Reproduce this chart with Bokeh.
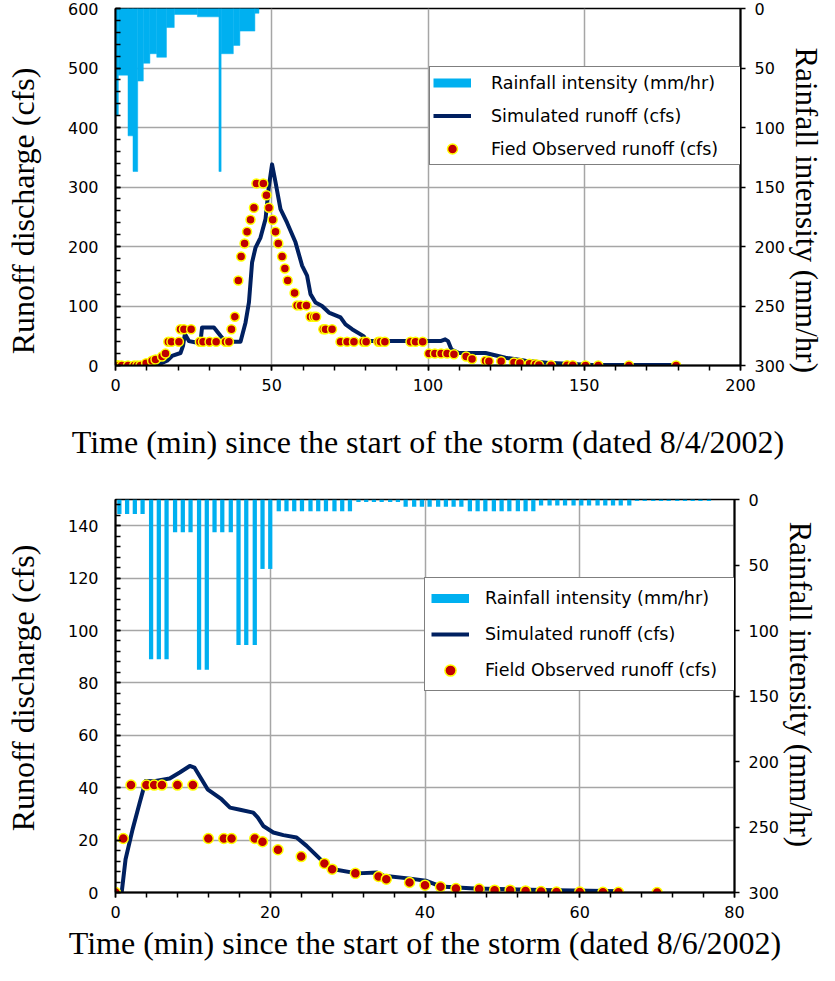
from bokeh.plotting import figure
from bokeh.models import Range1d, LinearAxis, FixedTicker, Legend, LegendItem
from bokeh.layouts import column
from bokeh.embed import file_html
from bokeh.resources import INLINE

NAN = float("nan")
NB = "\u00a0"

# ---------------- Storm of 8/4/2002 ----------------
rain1_left = [0.0, 0.9, 4.0, 5.6, 7.1, 8.9, 11.0, 13.2, 16.3, 18.8, 26.2, 33.1, 33.8, 37.7, 39.8, 44.6]
rain1_right = [0.9, 4.0, 5.6, 7.1, 8.9, 11.0, 13.2, 16.3, 18.8, 26.2, 33.1, 33.8, 37.7, 39.8, 44.6, 45.9]
rain1_val = [90, 56, 107, 137, 61, 46, 38, 41, 16, 5, 7, 137, 38, 31, 19, 4]

sim1_t = [0, 12, 13.9, 16.5, 18.1, 20.8, 21.6, 22.2, 23.5, 25.4, 27.2, 27.7, 31.5, 33.6, 35.2, 40,
          41.6, 42.7, 43.7, 44.8, 46.4, 48, 49.1, 50.1, 51.2, 52.8, 54.9, 57.6, 59.7, 61.3, 62.4,
          64, 66.1, 68.3, 72, 73.6, 75.7, 79.5, 80, 104, 105.5, 106.4, 107.5, 109.9, 118.4, 124.8,
          131.2, 139.7, 152.5, 179.2]
sim1_q = [0, 0.5, 2, 8, 16, 21, 33, 53, 41, 39, 40, 64, 64, 50, 40, 40,
          72, 106, 173, 198, 215, 246, 302, 338, 308, 263, 240, 207, 168, 151, 120,
          106, 100, 89, 81, 69, 61, 49, 41, 41, 44, 41, 27, 21, 21, 13,
          8, 4, 1, 1]

obs1_t = [0, 0.5, 1, 2, 4, 6, 7, 8, 9.8, 11.7, 12.8, 14.9, 16, 16.9, 17.9, 20.3, 20.8, 21.9, 24.2,
          27, 28, 30.1, 32.2, 35.2, 36.3, 37.1, 38.2, 39.3, 40.2, 41.3, 42.1, 43.2, 44.3, 45.1,
          47.3, 48.3, 49.1, 50.3, 51.2, 52.1, 53.3, 54.2, 55.1, 57.3, 58.1, 59.2, 61.1, 62.4, 63.5,
          64.2, 66.5, 67.2, 69.3, 72, 74.1, 76.3, 79.3, 80.2, 84.1, 84.8, 86.2, 94.4, 96, 98.3,
          100.3, 102.2, 104.2, 106.1, 108.3, 112.2, 114.1, 118.4, 119.5, 123.4, 127.5, 129.4,
          132.5, 134.4, 135.5, 139.4, 144.5, 146.3, 150.4, 154.5, 164.3, 179.4]
obs1_q = [0, 0, 0, 0, 0, 0, 0, 0, 4, 8, 10, 15, 20, 40, 40, 40, 61, 61, 61,
          40, 40, 40, 40, 40, 40, 61, 82, 143, 183, 205, 225, 245, 265, 306,
          306, 286, 265, 245, 225, 205, 183, 163, 143, 122, 101, 101, 101, 82, 82,
          82, 61, 61, 61, 40, 40, 40, 40, 40, 40, 40, 40, 40, 40, 40,
          20, 20, 20, 20, 19, 15, 11, 8, 7, 7, 5, 4,
          3, 2, 1, 0.5, 0.5, 0.5, 0, 0, 0, 0]

# ---------------- Storm of 8/6/2002 ----------------
rain2_t = [0.5, 1.5, 2.5, 3.5, 4.6, 5.6, 6.6, 7.7, 8.7, 9.7, 10.8, 11.8, 12.8, 13.8, 14.9, 15.9,
           16.9, 18.0, 19.0, 20.0, 21.1, 22.1, 23.1, 24.1, 25.2, 26.2, 27.2, 28.3, 29.3, 30.3,
           31.4, 32.4, 33.4, 34.4, 35.5, 36.5, 37.5, 38.6, 39.6, 40.6, 41.7, 42.7, 43.7, 44.7,
           45.8, 46.8, 47.8, 48.9, 49.9, 50.9, 52.0, 53.0, 54.0, 55.0, 56.1, 57.1, 58.1, 59.2,
           60.2, 61.2, 62.3, 63.3, 64.3, 65.3, 66.4, 67.4, 68.4, 69.5, 70.5, 71.5, 72.6, 73.6,
           74.6, 75.6, 76.7]
rain2_val = [11, 11, 11, 11, 122, 122, 122, 25, 25, 25, 130, 130, 25, 25, 25, 111,
             111, 111, 53, 53, 9, 9, 9, 9, 9, 9, 9, 9, 9, 9,
             2, 2, 2, 2, 2, 2, 5.5, 5.5, 5.5, 5.5, 5.5, 5.5, 5.5, 5.5,
             9, 9, 9, 9, 9, 9, 9, 9, 9, 4.5, 4.5, 4.5, 4.5, 4.5,
             4.5, 4.5, 4.5, 4.5, 4.5, 4.5, 4.5, 1.2, 1.2, 1.2, 1.2, 1.2, 1.2, 1.2,
             1.2, 1.2, 1.2]

sim2_t = [0.8, 1.3, 2.2, 3.1, 3.9, 5, 7, 8.3, 9.6, 10.2, 11.1, 11.9, 13.7, 14.8, 16.1, 17.8, 18.4,
          19.1, 20.4, 21.7, 23.4, 24.7, 26.9, 28.2, 31.2, 33.8, 34.7, 38.1, 40.1, 42, 46.4, 55, 65.4]
sim2_q = [0, 12.7, 24, 34, 42.6, 42.5, 43.5, 45.8, 48.3, 47.7, 43.3, 39.4, 35.6, 32.4, 31.6, 30.5, 28.6,
          25.4, 22.9, 21.9, 21, 17.8, 11.5, 8.9, 7.3, 7.6, 6.4, 5.3, 4.5, 2.3, 1.5, 1, 0.5]

obs2_t = [0, 1, 2, 4, 5, 6, 8, 10, 12, 14, 15, 18, 19, 21, 24, 27, 28, 31, 34, 35, 38, 40, 42,
          44, 47, 49, 51, 53, 55, 57, 60, 63, 65, 70]
obs2_q = [0, 20.6, 41, 41, 41, 41, 41, 41, 20.6, 20.6, 20.6, 20.6, 19.4, 16.3, 13.7, 11.1, 8.9,
          7.3, 6.1, 5.1, 3.8, 2.8, 2.2, 1.5, 1.3, 0.9, 0.9, 0.6, 0.4, 0.2, 0.2, 0.1, 0.1, 0]

x1_ticks = [0, 50, 100, 150, 200]
y1_ticks = [0, 100, 200, 300, 400, 500, 600]
x2_ticks = [0, 20, 40, 60, 80]
y2_ticks = [0, 20, 40, 60, 80, 100, 120, 140]
rain_ticks = [0, 50, 100, 150, 200, 250, 300]

y_title = "Runoff discharge (cfs)"
r_title = "Rainfall intensity (mm/hr)"
x1_title = "Time (min) since the start of the storm (dated 8/4/2002)"
x2_title = "Time (min) since the start of the storm (dated 8/6/2002)"
legend1_labels = ["Rainfall intensity (mm/hr)", "Simulated runoff (cfs)", "Fied Observed runoff (cfs)"]
legend2_labels = ["Rainfall intensity (mm/hr)", "Simulated runoff (cfs)", "Field Observed runoff (cfs)"]

BLUE = "#00B0F0"
NAVY = "#002060"
RED = "#C00000"
YELLOW = "#FFFF00"
GRID = "#A6A6A6"
SERIF = "Liberation Serif"
SANS = "DejaVu Sans"


def style_axis(ax):
    ax.major_label_text_font = SANS
    ax.major_label_text_font_size = "16px"
    ax.major_label_text_color = "black"
    ax.axis_label_text_font = SERIF
    ax.axis_label_text_font_size = "32px"
    ax.axis_label_text_font_style = "normal"
    ax.axis_label_text_color = "black"
    ax.axis_line_color = "black"
    ax.axis_line_width = 2
    ax.major_tick_line_color = "black"
    ax.minor_tick_line_color = "black"
    ax.major_tick_line_width = 1.5
    ax.minor_tick_line_width = 1.5


def make_chart(fw, fh, xmax, ymax, xt, xminor, yt, yminor, bl, br, bt, bb, xlabel, ylabel, rlabel,
               legend_loc, leg_pad, leg_h, leg_sp, leg_standoff, leg_lw):
    p = figure(frame_width=fw, frame_height=fh, x_range=Range1d(0, xmax), y_range=Range1d(0, ymax),
               output_backend="svg", toolbar_location=None,
               min_border_left=bl, min_border_right=br, min_border_top=bt, min_border_bottom=bb)
    p.background_fill_color = "white"
    p.border_fill_color = "white"
    p.outline_line_color = "black"
    p.outline_line_width = 1.5
    p.extra_y_ranges = {"rain": Range1d(start=300, end=0)}

    xa = p.xaxis[0]
    style_axis(xa)
    xa.ticker = FixedTicker(ticks=xt, minor_ticks=xminor)
    xa.major_tick_in = 0
    xa.major_tick_out = 5
    xa.minor_tick_in = 0
    xa.minor_tick_out = 5
    xa.major_label_standoff = 8
    xa.axis_label = xlabel

    ya = p.yaxis[0]
    style_axis(ya)
    ya.ticker = FixedTicker(ticks=yt, minor_ticks=yminor)
    ya.major_tick_in = 5
    ya.major_tick_out = 0
    ya.minor_tick_in = 5
    ya.minor_tick_out = 0
    ya.major_label_standoff = 17
    ya.axis_label = ylabel
    ya.axis_label_standoff = 24

    ra = LinearAxis(y_range_name="rain", axis_label=rlabel,
                    ticker=FixedTicker(ticks=rain_ticks))
    style_axis(ra)
    ra.axis_label_text_font_size = "31px"
    ra.major_tick_in = 0
    ra.major_tick_out = 5
    ra.minor_tick_line_color = None
    ra.major_label_standoff = 9
    ra.axis_label_standoff = 1
    p.add_layout(ra, "right")

    p.xgrid.ticker = FixedTicker(ticks=xt)
    p.ygrid.ticker = FixedTicker(ticks=yt)
    for g in (p.xgrid, p.ygrid):
        g.grid_line_color = GRID
        g.grid_line_width = 1.5

    leg = Legend(location=legend_loc, glyph_width=38, glyph_height=leg_h, label_height=leg_h,
                 label_width=leg_lw, spacing=leg_sp, padding=leg_pad, label_standoff=leg_standoff,
                 border_line_color="black", border_line_width=1.2, background_fill_alpha=1.0,
                 label_text_font=SANS, label_text_font_size="17.5px", label_text_color="black")
    return p, xa, leg


# ---------- chart 1 ----------
p1, xa1, leg1 = make_chart(625, 357, 200, 600, x1_ticks, list(range(0, 201, 10)),
                           y1_ticks, list(range(0, 601, 20)), 112, 82, 8, 115,
                           x1_title, y_title + NB * 6, NB * 6 + r_title,
                           (314, 200), 3, 25, 8, 20, 246)
xa1.axis_label_standoff = 30
p1.quad(left=rain1_left, right=rain1_right, top=[0] * len(rain1_val), bottom=rain1_val,
        y_range_name="rain", fill_color=BLUE, line_color=BLUE, line_width=0.5)
leg_bar1 = p1.line(x=[NAN, NAN], y=[NAN, NAN], line_color=BLUE, line_width=9)
l1 = p1.line(sim1_t, sim1_q, line_color=NAVY, line_width=4, line_join="round")
s1 = p1.scatter(obs1_t, obs1_q, size=9, fill_color=RED, line_color=YELLOW, line_width=1.5)
leg1.items = [LegendItem(label=legend1_labels[0], renderers=[leg_bar1]),
              LegendItem(label=legend1_labels[1], renderers=[l1]),
              LegendItem(label=legend1_labels[2], renderers=[s1])]
p1.add_layout(leg1)

# ---------- chart 2 ----------
p2, xa2, leg2 = make_chart(619, 393, 80, 150, x2_ticks, list(range(0, 81, 4)),
                           y2_ticks, list(range(0, 149, 4)), 115, 85, 19, 73,
                           x2_title, NB * 2 + y_title, r_title + NB * 3,
                           (309, 201), 6, 28, 8, 16, 245)
xa2.axis_label_standoff = 4
p2.vbar(x=rain2_t, width=0.55, top=0, bottom=rain2_val, y_range_name="rain",
        fill_color=BLUE, line_color=None)
leg_bar2 = p2.line(x=[NAN, NAN], y=[NAN, NAN], line_color=BLUE, line_width=9)
l2 = p2.line(sim2_t, sim2_q, line_color=NAVY, line_width=4, line_join="round")
s2 = p2.scatter(obs2_t, obs2_q, size=10, fill_color=RED, line_color=YELLOW, line_width=1.5)
leg2.items = [LegendItem(label=legend2_labels[0], renderers=[leg_bar2]),
              LegendItem(label=legend2_labels[1], renderers=[l2]),
              LegendItem(label=legend2_labels[2], renderers=[s2])]
p2.add_layout(leg2)

layout = column(p1, p2)
open("out.html", "w").write(file_html(layout, INLINE))
